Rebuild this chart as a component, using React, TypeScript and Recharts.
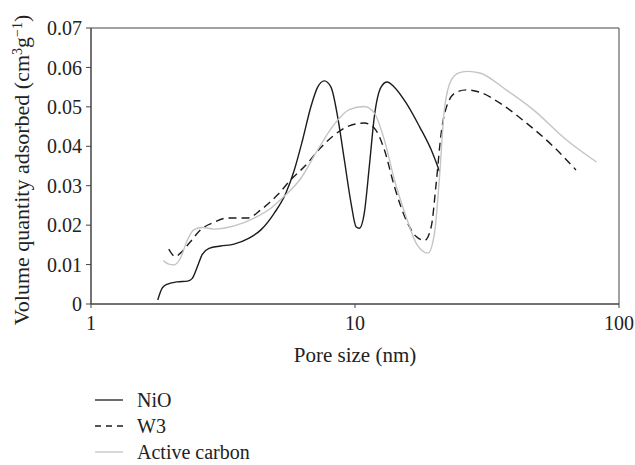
import { Label, Legend, Line, LineChart, ReferenceArea, XAxis, YAxis } from "recharts";

type Pt = { x: number; y: number };

const xTicks = [1, 10, 100];
const yTicks = [0, 0.01, 0.02, 0.03, 0.04, 0.05, 0.06, 0.07];

const nioData: Pt[] = [
  { x: 1.79, y: 0.001 },
  { x: 1.86, y: 0.004 },
  { x: 1.94, y: 0.005 },
  { x: 2.12, y: 0.0056 },
  { x: 2.32, y: 0.0058 },
  { x: 2.42, y: 0.0065 },
  { x: 2.53, y: 0.0095 },
  { x: 2.64, y: 0.0126 },
  { x: 2.8, y: 0.0141 },
  { x: 3.1, y: 0.0147 },
  { x: 3.48, y: 0.0152 },
  { x: 3.97, y: 0.0167 },
  { x: 4.4, y: 0.0188 },
  { x: 4.94, y: 0.023 },
  { x: 5.47, y: 0.0281 },
  { x: 5.89, y: 0.034 },
  { x: 6.33, y: 0.0416 },
  { x: 6.81, y: 0.0501 },
  { x: 7.22, y: 0.055 },
  { x: 7.65, y: 0.0566 },
  { x: 8.11, y: 0.055 },
  { x: 8.59, y: 0.0476 },
  { x: 9.11, y: 0.0366 },
  { x: 9.66, y: 0.0256 },
  { x: 10.09, y: 0.0196 },
  { x: 10.38, y: 0.0192 },
  { x: 10.84, y: 0.023 },
  { x: 11.33, y: 0.0349 },
  { x: 11.84, y: 0.0476 },
  { x: 12.55, y: 0.055 },
  { x: 13.23, y: 0.0563 },
  { x: 14.1, y: 0.055 },
  { x: 15.62, y: 0.051 },
  { x: 17.55, y: 0.045 },
  { x: 19.44, y: 0.0391 },
  { x: 20.9, y: 0.0336 },
];

const w3Data: Pt[] = [
  { x: 1.97, y: 0.0139 },
  { x: 2.09, y: 0.012 },
  { x: 2.18, y: 0.0129 },
  { x: 2.38, y: 0.0158 },
  { x: 2.6, y: 0.0188 },
  { x: 2.92, y: 0.0207 },
  { x: 3.28, y: 0.0218 },
  { x: 3.91, y: 0.0218 },
  { x: 4.4, y: 0.0239 },
  { x: 5.09, y: 0.0277 },
  { x: 5.71, y: 0.0315 },
  { x: 6.61, y: 0.0357 },
  { x: 7.11, y: 0.0383 },
  { x: 8.22, y: 0.0425 },
  { x: 9.51, y: 0.0452 },
  { x: 10.84, y: 0.0459 },
  { x: 11.84, y: 0.0446 },
  { x: 12.92, y: 0.0391 },
  { x: 14.1, y: 0.0298 },
  { x: 15.62, y: 0.0213 },
  { x: 17.06, y: 0.0171 },
  { x: 18.34, y: 0.0161 },
  { x: 19.44, y: 0.0196 },
  { x: 20.3, y: 0.0306 },
  { x: 21.2, y: 0.0433 },
  { x: 22.5, y: 0.051 },
  { x: 24.2, y: 0.0537 },
  { x: 26.4, y: 0.0543 },
  { x: 29.7, y: 0.0537 },
  { x: 35.3, y: 0.051 },
  { x: 44.6, y: 0.0459 },
  { x: 56.3, y: 0.04 },
  { x: 68.7, y: 0.034 },
];

const carbonData: Pt[] = [
  { x: 1.88, y: 0.011 },
  { x: 1.97, y: 0.0101 },
  { x: 2.06, y: 0.0099 },
  { x: 2.18, y: 0.0116 },
  { x: 2.32, y: 0.0163 },
  { x: 2.45, y: 0.0188 },
  { x: 2.64, y: 0.0194 },
  { x: 2.92, y: 0.019 },
  { x: 3.48, y: 0.0198 },
  { x: 4.15, y: 0.0218 },
  { x: 4.8, y: 0.0243 },
  { x: 5.39, y: 0.0273 },
  { x: 6.24, y: 0.0319 },
  { x: 7.11, y: 0.0383 },
  { x: 8.22, y: 0.045 },
  { x: 9.51, y: 0.0493 },
  { x: 10.84, y: 0.0501 },
  { x: 11.84, y: 0.0484 },
  { x: 12.92, y: 0.0416 },
  { x: 14.1, y: 0.0315 },
  { x: 15.62, y: 0.0221 },
  { x: 17.06, y: 0.0154 },
  { x: 18.9, y: 0.0129 },
  { x: 20.0, y: 0.0179 },
  { x: 20.9, y: 0.0323 },
  { x: 21.8, y: 0.0493 },
  { x: 23.2, y: 0.0569 },
  { x: 24.9, y: 0.0587 },
  { x: 26.8, y: 0.059 },
  { x: 29.7, y: 0.0586 },
  { x: 37.4, y: 0.0543 },
  { x: 47.3, y: 0.0493 },
  { x: 63.3, y: 0.0416 },
  { x: 82.2, y: 0.036 },
];

const FONT = "'Liberation Serif', 'DejaVu Serif', serif";
const AXIS = "#444";
const TEXT = "#222";

const series = [
  { name: "NiO", data: nioData, color: "#1c1c1c", dash: undefined },
  { name: "W3", data: w3Data, color: "#1c1c1c", dash: "8 5" },
  { name: "Active carbon", data: carbonData, color: "#c4c4c4", dash: undefined },
];

// legend drawn by hand: short line + name, three rows
function LegendBox() {
  return (
    <svg
      width={200}
      height={74}
      overflow="visible"
      style={{ fontFamily: FONT, display: "block", overflow: "visible" }}
    >
      {series.map((s, i) => (
        <g key={s.name}>
          <line
            x1={0}
            x2={28}
            y1={11 + i * 26}
            y2={11 + i * 26}
            stroke={s.color}
            strokeWidth={1.3}
            strokeDasharray={s.dash ? "6 5" : undefined}
          />
          <text x={42} y={11 + i * 26} dy="0.35em" fontSize={20} fill={TEXT}>
            {s.name}
          </text>
        </g>
      ))}
    </svg>
  );
}

function YTitle() {
  return (
    <text
      x={21}
      y={170}
      transform="rotate(-90 21 170)"
      textAnchor="middle"
      dy="0.35em"
      fontSize={22}
      fill={TEXT}
      fontFamily={FONT}
    >
      Volume quantity adsorbed (cm
      <tspan fontSize={14} baselineShift="super">3</tspan>
      g
      <tspan fontSize={14} baselineShift="super">−1</tspan>
      )
    </text>
  );
}

export default function App() {
  return (
    <div style={{ position: "absolute", left: 0, top: 0, background: "#fff" }}>
      <LineChart
        width={635}
        height={465}
        margin={{ top: 28, right: 16, left: 0, bottom: 101 }}
        style={{ fontFamily: FONT }}
      >
        <XAxis
          dataKey="x"
          type="number"
          scale="log"
          domain={[1, 100]}
          ticks={xTicks}
          allowDataOverflow
          height={60}
          tickSize={4}
          tickMargin={8}
          stroke={AXIS}
          tick={{ fill: TEXT, fontSize: 20 }}
        >
          <Label
            value="Pore size (nm)"
            position="insideTop"
            offset={43}
            fill={TEXT}
            fontSize={21}
          />
        </XAxis>
        <YAxis
          dataKey="y"
          type="number"
          domain={[0, 0.07]}
          ticks={yTicks}
          width={91}
          tickSize={5}
          tickMargin={4}
          stroke={AXIS}
          tick={{ fill: TEXT, fontSize: 20 }}
          tickFormatter={(v: number) => (v === 0 ? "0" : v.toFixed(2))}
          label={<YTitle />}
        />
        <ReferenceArea
          x1={1}
          x2={100}
          y1={0}
          y2={0.07}
          fill="none"
          stroke={AXIS}
          strokeWidth={1}
        />
        {series.map((s) => (
          <Line
            key={s.name}
            data={s.data}
            dataKey="y"
            name={s.name}
            type="monotone"
            stroke={s.color}
            strokeWidth={1.4}
            strokeDasharray={s.dash}
            dot={false}
            isAnimationActive={false}
          />
        ))}
        <Legend
          layout="vertical"
          align="center"
          verticalAlign="middle"
          content={() => <LegendBox />}
          wrapperStyle={{ left: 95, top: 389, width: 200, height: 74 }}
        />
      </LineChart>
    </div>
  );
}
